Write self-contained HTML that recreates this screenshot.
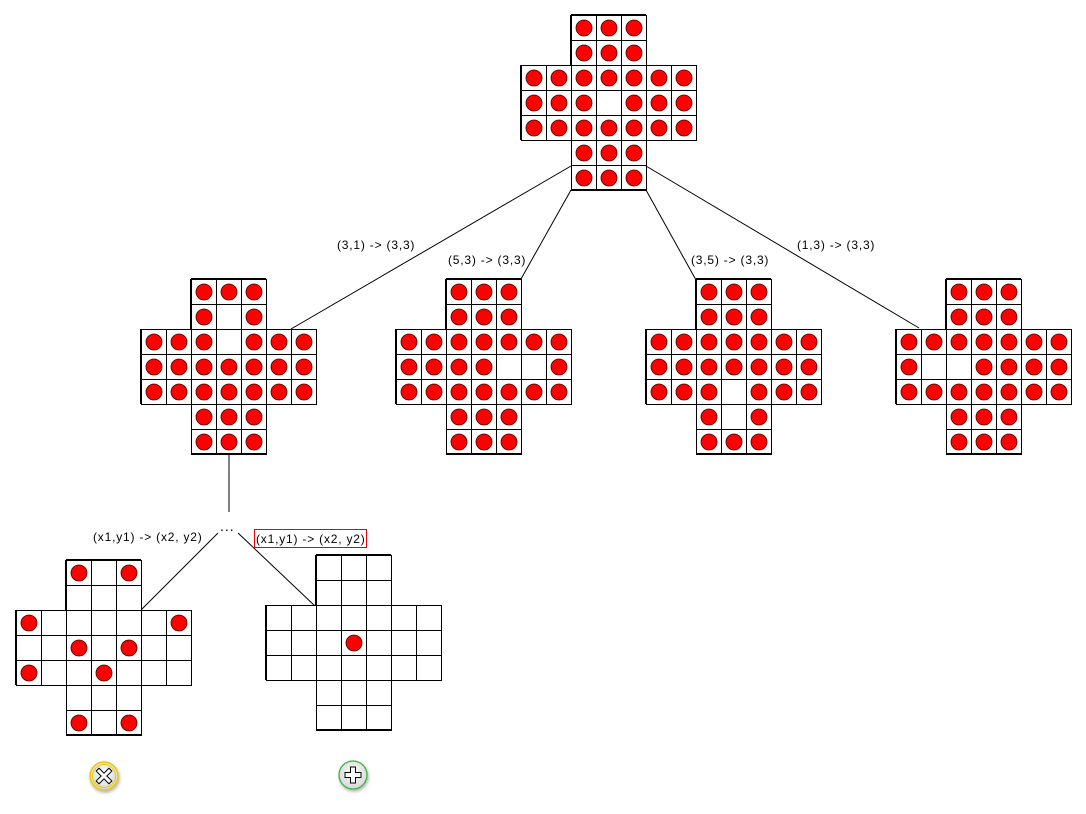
<!DOCTYPE html>
<html><head><meta charset="utf-8"><style>
html,body{margin:0;padding:0;background:#fff;}
svg{display:block;}
text{font-family:"Liberation Sans",sans-serif;font-size:12px;letter-spacing:0.8px;fill:#000;}
</style></head><body>
<svg id="s" width="1086" height="814" xmlns="http://www.w3.org/2000/svg">
<defs>
<radialGradient id="gg" cx="50%" cy="40%" r="60%"><stop offset="0" stop-color="#fafafa"/><stop offset="1" stop-color="#d8d8d8"/></radialGradient>
<filter id="sh" x="-30%" y="-30%" width="160%" height="160%"><feDropShadow dx="1" dy="2" stdDeviation="1.5" flood-opacity="0.3"/></filter>
</defs>
<g stroke="#000" stroke-width="1" fill="none">
<line x1="571" y1="166" x2="291" y2="329"/>
<line x1="571" y1="190" x2="521" y2="279"/>
<line x1="646" y1="190" x2="696" y2="280"/>
<line x1="646" y1="166" x2="919" y2="328"/>
<line x1="229" y1="454" x2="229" y2="512"/>
<line x1="218" y1="533" x2="141" y2="610"/>
<line x1="238" y1="533" x2="315" y2="606"/>
</g>
<g id="boards"></g>
<text x="337" y="249">(3,1) -&gt; (3,3)</text>
<text x="448" y="264">(5,3) -&gt; (3,3)</text>
<text x="691" y="264">(3,5) -&gt; (3,3)</text>
<text x="797" y="249">(1,3) -&gt; (3,3)</text>
<text x="220" y="531" style="font-size:14px;letter-spacing:1px">...</text>
<text x="93" y="541">(x1,y1) -&gt; (x2, y2)</text>
<rect x="254.5" y="529.5" width="112" height="18" fill="none" stroke="#e00" stroke-width="1"/>
<text x="256" y="543">(x1,y1) -&gt; (x2, y2)</text>
<g filter="url(#sh)">
<circle cx="104" cy="776" r="14" fill="url(#gg)" stroke="#e8c800" stroke-width="1.5"/>
<circle cx="104" cy="776" r="11.5" fill="none" stroke="#e8c800" stroke-width="1"/>
<circle cx="353" cy="775" r="14" fill="url(#gg)" stroke="#3bb33b" stroke-width="1.3"/>
</g>
<g transform="translate(104,776) rotate(45)"><path d="M-2,-9 H2 V-2 H9 V2 H2 V9 H-2 V2 H-9 V-2 H-2 Z" fill="#fff" stroke="#000" stroke-width="1"/></g>
<g transform="translate(353,775)"><path d="M-2.5,-8 H2.5 V-2.5 H8 V2.5 H2.5 V8 H-2.5 V2.5 H-8 V-2.5 H-2.5 Z" fill="#fff" stroke="#000" stroke-width="1"/></g>
</svg>
<script>
var NS="http://www.w3.org/2000/svg",g=document.getElementById("boards");
function el(n,a){var e=document.createElementNS(NS,n);for(var k in a)e.setAttribute(k,a[k]);g.appendChild(e);return e;}
function board(x0,y0,rows){
 var c=25;
 for(var r=0;r<7;r++)for(var k=0;k<7;k++){
  if(!((r>=2&&r<=4)||(k>=2&&k<=4)))continue;
  el("rect",{x:x0+k*c+0.5,y:y0+r*c+0.5,width:c,height:c,fill:"#fff",stroke:"#000","stroke-width":1});
 }
 for(var r=0;r<7;r++)for(var k=0;k<7;k++){
  if(!((r>=2&&r<=4)||(k>=2&&k<=4)))continue;
  if(rows[r][k]==="o")el("circle",{cx:x0+k*c+13,cy:y0+r*c+13,r:8,fill:"#f00",stroke:"#400","stroke-width":0.8});
 }
 var p="M"+(x0+50)+","+(y0)+"H"+(x0+125)+"M"+(x0)+","+(y0+50)+"V"+(y0+125)+"M"+(x0+50)+","+(y0+175)+"H"+(x0+125)+"M"+(x0+50)+","+(y0)+"V"+(y0+50);
 el("path",{d:p,stroke:"#000","stroke-width":2,fill:"none"});
}
board(521,15,["ooooooo","ooooooo","ooooooo","ooo.ooo","ooooooo","ooooooo","ooooooo"]);
board(141,279,["ooooooo","ooo.ooo","ooo.ooo","ooooooo","ooooooo","ooooooo","ooooooo"]);
board(396,279,["ooooooo","ooooooo","ooooooo","oooo..o","ooooooo","ooooooo","ooooooo"]);
board(646,279,["ooooooo","ooooooo","ooooooo","ooooooo","ooo.ooo","ooo.ooo","ooooooo"]);
board(896,279,["ooooooo","ooooooo","ooooooo","o..oooo","ooooooo","ooooooo","ooooooo"]);
board(16,560,["..o.o..",".......","o.....o","..o.o..","o..o...",".......","..o.o.."]);
board(266,555,[".......",".......",".......","...o...",".......",".......","......."]);
</script>
</body></html>
